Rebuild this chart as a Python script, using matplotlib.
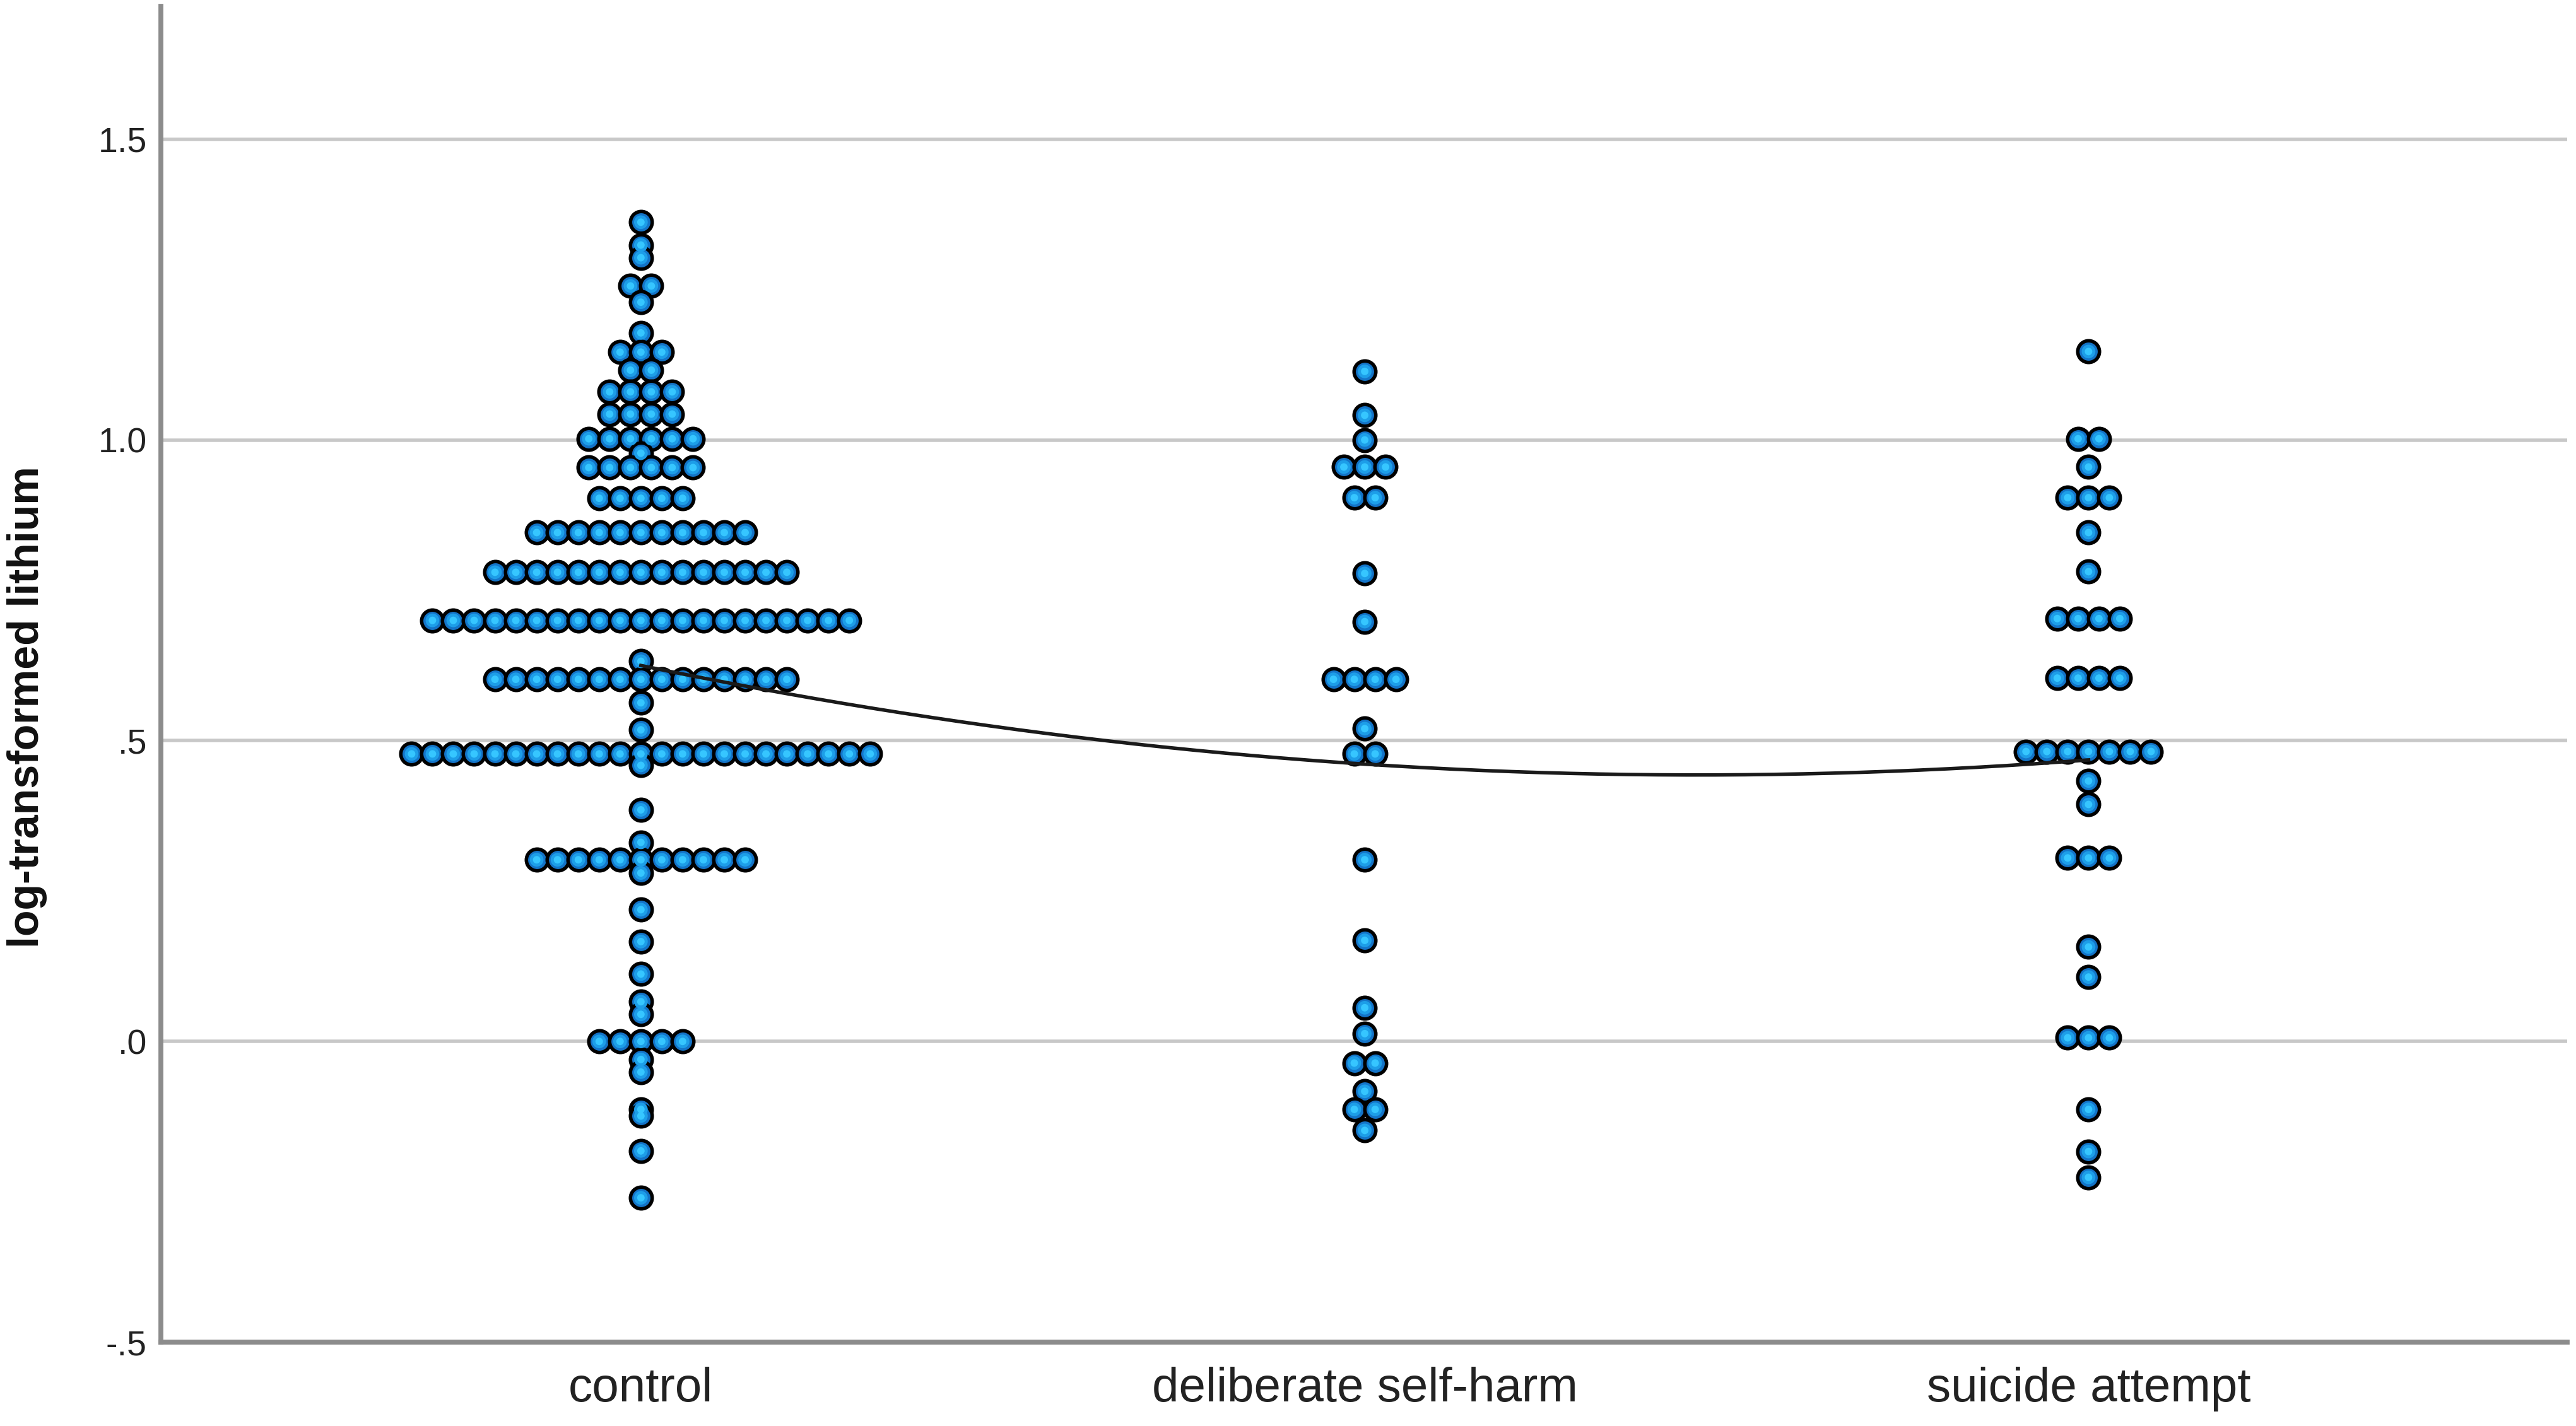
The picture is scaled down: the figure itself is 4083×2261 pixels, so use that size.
import numpy as np
import matplotlib
matplotlib.use("Agg")
import matplotlib.pyplot as plt

# ==========================
# Data
# ==========================
categories = ["control", "deliberate self-harm", "suicide attempt"]

# value levels and how many dots sit side by side at each level
control_vals = [1.362, 1.324, 1.303, 1.256, 1.229, 1.178, 1.146, 1.116, 1.080, 1.043,
                1.002, 0.978, 0.954, 0.903, 0.846, 0.780, 0.700, 0.632, 0.602, 0.563,
                0.518, 0.478, 0.459, 0.385, 0.331, 0.302, 0.280, 0.219, 0.166, 0.112,
                0.066, 0.045, 0.000, -0.030, -0.051, -0.113, -0.124, -0.182, -0.260]
control_counts = [1, 1, 1, 2, 1, 1, 3, 2, 4, 4,
                  6, 1, 6, 5, 11, 15, 21, 1, 15, 1,
                  1, 23, 1, 1, 1, 11, 1, 1, 1, 1,
                  1, 1, 5, 1, 1, 1, 1, 1, 1]

dsh_vals = [1.114, 1.041, 1.000, 0.955, 0.904, 0.778, 0.698, 0.602, 0.520, 0.478,
            0.302, 0.168, 0.056, 0.013, -0.036, -0.083, -0.113, -0.148]
dsh_counts = [1, 1, 1, 3, 2, 1, 1, 4, 1, 2,
              1, 1, 1, 1, 2, 1, 2, 1]

sa_vals = [1.147, 1.002, 0.955, 0.904, 0.846, 0.781, 0.703, 0.604, 0.482, 0.433,
           0.394, 0.305, 0.157, 0.107, 0.006, -0.113, -0.183, -0.226]
sa_counts = [1, 2, 1, 3, 1, 1, 4, 4, 7, 1,
             1, 3, 1, 1, 3, 1, 1, 1]

# group means joined by the interpolation line
group_means = [0.625, 0.461, 0.468]

y_ticks = [-0.5, 0.0, 0.5, 1.0, 1.5]
y_tick_labels = ["-.5", ".0", ".5", "1.0", "1.5"]

# ==========================
# Figure
# ==========================
plt.rcParams["font.family"] = ["Liberation Sans", "DejaVu Sans"]

fig = plt.figure(figsize=(20.415, 11.305), dpi=200)
ax = fig.add_axes([0.0625, 0.0588, 0.934, 0.9368])

ax.set_xlim(-0.663, 2.661)
ax.set_ylim(-0.5, 1.721)

for y in y_ticks[1:]:
    ax.axhline(y, color="#c8c8c8", lw=2.0, zorder=0)

dx = 0.0288  # horizontal step between touching dots
groups = [(control_vals, control_counts), (dsh_vals, dsh_counts), (sa_vals, sa_counts)]
for gi, (vals, counts) in enumerate(groups):
    xs, ys = [], []
    for v, n in zip(vals, counts):
        offs = (np.arange(n) - (n - 1) / 2) * dx
        xs.extend(gi + offs)
        ys.extend([v] * n)
    # fake the shaded look with three stacked layers
    ax.scatter(xs, ys, s=12.4 ** 2, color="#1474c8", edgecolors="#000000",
               linewidths=2.0, zorder=3)
    ax.scatter(xs, ys, s=7.8 ** 2, color="#1d9ee8", edgecolors="none", zorder=4)
    ax.scatter(xs, ys, s=4.3 ** 2, color="#36c6ff", edgecolors="none", zorder=5)

# interpolation line through the group means
xg = np.arange(len(group_means))
coef = np.polyfit(xg, group_means, 2)
xx = np.linspace(0, len(group_means) - 1, 300)
ax.plot(xx, np.polyval(coef, xx), color="#1a1a1a", lw=2.0, zorder=6)

# axes styling
for side in ["top", "right"]:
    ax.spines[side].set_visible(False)
for side in ["left", "bottom"]:
    ax.spines[side].set_color("#8c8c8c")
    ax.spines[side].set_linewidth(2.8)

ax.set_xticks(range(len(categories)))
ax.set_xticklabels(categories, fontsize=27.5, color="#222222")
ax.set_yticks(y_ticks)
ax.set_yticklabels(y_tick_labels, fontsize=20, color="#222222")
ax.tick_params(axis="x", length=0, pad=14)
ax.tick_params(axis="y", length=0, pad=8)

fig.text(0.0105, 0.504, "log-transformed lithium", rotation=90, ha="center", va="center",
         fontsize=24.5, fontweight="bold", color="#111111")

fig.savefig("out.png", dpi=200, facecolor="white")
